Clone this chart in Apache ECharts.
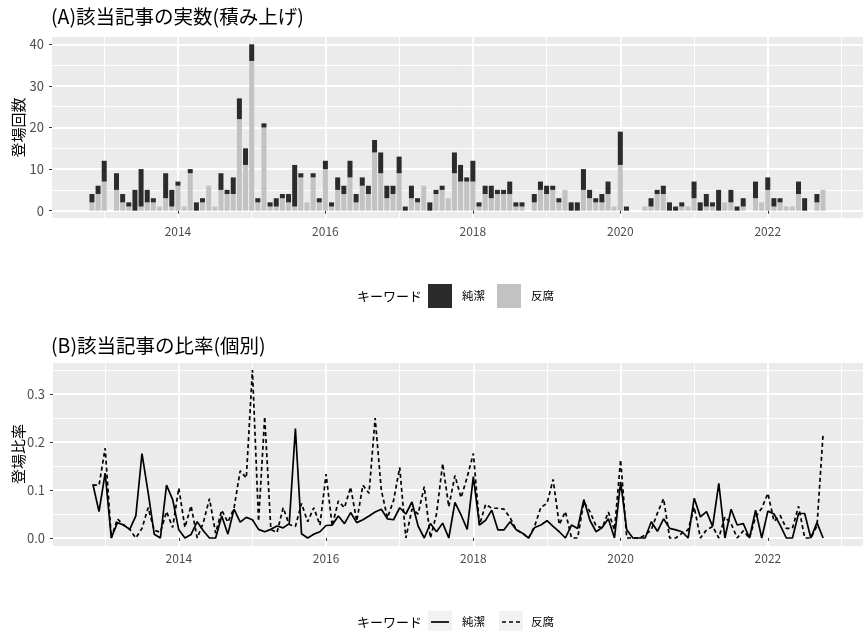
<!DOCTYPE html>
<html>
<head>
<meta charset="utf-8">
<script src="https://cdn.jsdelivr.net/npm/echarts@6/dist/echarts.min.js"></script>
<style>
  html, body { margin: 0; padding: 0; background: #ffffff; }
  #chart { width: 866px; height: 631px; }
</style>
</head>
<body>
<div id="chart"></div>
<script>
// Keywords and monthly series, first month 2012-11, last month 2022-10
const keywords = ['純潔', '反腐'];
const firstYear = 2012;
const firstMonth = 11;
const yearTickLabels = ['2014', '2016', '2018', '2020', '2022'];

// (A) number of matching articles per month
const purityCounts = [
  2, 2, 5, 0, 4, 2, 1, 5, 9, 3,
  1, 0, 6, 4, 1, 0, 1, 2, 1, 0,
  0, 4, 1, 4, 5, 4, 4, 1, 1, 1,
  2, 1, 2, 10, 1, 0, 1, 1, 2, 1,
  3, 2, 4, 2, 2, 2, 3, 5, 3, 2,
  4, 1, 3, 1, 0, 2, 1, 1, 0, 5,
  4, 1, 5, 1, 2, 3, 1, 1, 3, 1,
  1, 0, 2, 2, 2, 1, 1, 0, 2, 2,
  5, 2, 1, 2, 3, 0, 8, 1, 0, 0,
  0, 2, 1, 2, 2, 1, 1, 0, 4, 2,
  3, 1, 5, 0, 3, 1, 2, 0, 4, 0,
  3, 2, 1, 0, 0, 3, 3, 0, 2, 0
];
const anticorruptionCounts = [
  2, 4, 7, 0, 5, 2, 1, 0, 1, 2,
  2, 1, 3, 1, 6, 1, 9, 0, 2, 6,
  1, 5, 4, 4, 22, 11, 36, 2, 20, 1,
  1, 3, 2, 1, 8, 2, 8, 2, 10, 1,
  5, 4, 8, 2, 6, 4, 14, 9, 3, 4,
  9, 0, 3, 2, 6, 0, 4, 5, 3, 9,
  7, 7, 7, 1, 4, 3, 4, 4, 4, 1,
  1, 0, 2, 5, 4, 5, 2, 5, 0, 0,
  5, 3, 2, 2, 4, 1, 11, 0, 0, 0,
  1, 1, 4, 4, 0, 0, 1, 1, 3, 0,
  1, 1, 0, 2, 2, 0, 1, 0, 3, 2,
  5, 1, 2, 1, 1, 4, 0, 0, 2, 5
];

// (B) share of the month's articles for each keyword
const purityRatio = [
  0.112, 0.055, 0.135, 0, 0.032, 0.027, 0.018, 0.046, 0.176, 0.095,
  0.008, 0, 0.11, 0.08, 0.017, 0, 0.0075, 0.034, 0.015, 0,
  0, 0.046, 0.008, 0.06, 0.033, 0.043, 0.038, 0.018, 0.013, 0.018,
  0.025, 0.021, 0.03, 0.228, 0.009, 0, 0.008, 0.013, 0.026, 0.027,
  0.046, 0.03, 0.053, 0.032, 0.038, 0.046, 0.054, 0.06, 0.04, 0.038,
  0.063, 0.05, 0.075, 0.025, 0, 0.03, 0.013, 0.031, 0, 0.074,
  0.048, 0.018, 0.128, 0.027, 0.037, 0.058, 0.017, 0.017, 0.034, 0.017,
  0.01, 0, 0.022, 0.027, 0.036, 0.024, 0.013, 0, 0.027, 0.02,
  0.08, 0.037, 0.013, 0.022, 0.04, 0, 0.117, 0.017, 0, 0,
  0, 0.034, 0.014, 0.04, 0.02, 0.017, 0.013, 0, 0.083, 0.044,
  0.055, 0.024, 0.114, 0, 0.06, 0.027, 0.03, 0, 0.058, 0,
  0.056, 0.05, 0.027, 0, 0, 0.051, 0.051, 0, 0.032, 0
];
const anticorruptionRatio = [
  0.11, 0.11, 0.187, 0, 0.04, 0.027, 0.018, 0, 0.02, 0.063,
  0.016, 0.012, 0.055, 0.022, 0.104, 0.022, 0.067, 0, 0.032, 0.082,
  0.01, 0.058, 0.033, 0.062, 0.14, 0.125, 0.35, 0.035, 0.253, 0.018,
  0.011, 0.063, 0.028, 0.024, 0.072, 0.034, 0.063, 0.027, 0.133, 0.025,
  0.077, 0.063, 0.106, 0.035, 0.11, 0.093, 0.25, 0.1, 0.042, 0.078,
  0.147, 0, 0.06, 0.05, 0.107, 0, 0.05, 0.155, 0.065, 0.13,
  0.084, 0.127, 0.176, 0.027, 0.07, 0.062, 0.062, 0.06, 0.042, 0.017,
  0.01, 0, 0.025, 0.064, 0.072, 0.122, 0.028, 0.055, 0, 0,
  0.075, 0.055, 0.025, 0.021, 0.054, 0.017, 0.163, 0, 0, 0,
  0.006, 0.017, 0.052, 0.082, 0, 0, 0.01, 0.017, 0.064, 0,
  0.017, 0.024, 0, 0.044, 0.03, 0, 0.015, 0, 0.044, 0.062,
  0.093, 0.035, 0.047, 0.02, 0.02, 0.066, 0, 0, 0.025, 0.218
];

// Six empty months on each side give the axis its outer margin
const PAD = 6;
function monthName(t) {
  const y = Math.floor(t / 12);
  const m = t % 12 + 1;
  return y + '-' + String(m).padStart(2, '0');
}
const t0 = firstYear * 12 + firstMonth - 1;
const axisMonths = [];
for (let k = -PAD; k < purityCounts.length + PAD; k++) axisMonths.push(monthName(t0 + k));
const padded = arr => Array(PAD).fill(null).concat(arr, Array(PAD).fill(null));

const isMajor = v => v.endsWith('-01') && yearTickLabels.includes(v.slice(0, 4));
const isMinor = v => v.endsWith('-01') && !yearTickLabels.includes(v.slice(0, 4));

const FONT = 'Noto Sans CJK JP';
const PANEL_BG = '#EBEBEB';
const DARK = '#2B2B2B';
const LIGHT = '#C2C2C2';
const LABEL = '#4D4D4D';

function xMajor(gridIndex) {
  return {
    type: 'category', gridIndex, data: axisMonths, boundaryGap: true,
    axisLine: { show: false },
    axisTick: { show: true, length: 3, alignWithLabel: true,
      interval: (i, v) => isMajor(v), lineStyle: { color: '#333333', width: 1 } },
    axisLabel: { show: true, interval: (i, v) => isMajor(v), formatter: v => v.slice(0, 4),
      color: LABEL, fontSize: 12, margin: 6, fontFamily: FONT },
    splitLine: { show: true, alignWithLabel: true, interval: (i, v) => isMajor(v),
      lineStyle: { color: '#FFFFFF', width: 1.8 } }
  };
}
function xMinor(gridIndex) {
  return {
    type: 'category', gridIndex, data: axisMonths, boundaryGap: true,
    axisLine: { show: false }, axisTick: { show: false }, axisLabel: { show: false },
    splitLine: { show: true, alignWithLabel: true, interval: (i, v) => isMinor(v),
      lineStyle: { color: '#FFFFFF', width: 0.9 } }
  };
}
function yAxis(gridIndex, min, max, name, nameGap, fmt) {
  return {
    type: 'value', gridIndex, min, max, splitNumber: 5,
    name, nameLocation: 'middle', nameGap, nameMoveOverlap: false,
    nameTextStyle: { fontSize: 15, color: '#000000', fontFamily: FONT },
    axisLine: { show: false },
    axisTick: { show: true, length: 3, lineStyle: { color: '#333333', width: 1 } },
    axisLabel: { color: LABEL, fontSize: 13, margin: 8, fontFamily: FONT,
      showMinLabel: false, showMaxLabel: false, formatter: fmt },
    splitLine: { show: true, lineStyle: { color: '#FFFFFF', width: 1.8 } },
    minorTick: { show: false, splitNumber: 2 },
    minorSplitLine: { show: true, lineStyle: { color: '#FFFFFF', width: 0.9 } }
  };
}

// Line keys for the ratio legend, drawn over light key boxes
const keyY = 622;
const lineKeys = [
  { x: 428, dash: null },
  { x: 499, dash: [4, 3] }
];
const keyGraphics = [];
lineKeys.forEach(k => {
  keyGraphics.push({ type: 'rect', shape: { x: k.x, y: 611, width: 24, height: 22 },
    style: { fill: '#F2F2F2' }, z: 10 });
  keyGraphics.push({ type: 'line', shape: { x1: k.x + 3, y1: keyY, x2: k.x + 21, y2: keyY },
    style: { stroke: '#000000', lineWidth: 1.7, lineDash: k.dash }, z: 11 });
});

const chart = echarts.init(document.getElementById('chart'), null, { renderer: 'canvas' });
chart.setOption({
  animation: false,
  backgroundColor: '#FFFFFF',
  textStyle: { fontFamily: FONT },
  title: [
    { text: '(A)該当記事の実数(積み上げ)', left: 46, top: 2,
      textStyle: { fontSize: 19.5, fontWeight: 'normal', color: '#000000', fontFamily: FONT } },
    { text: '(B)該当記事の比率(個別)', left: 46, top: 331,
      textStyle: { fontSize: 19.5, fontWeight: 'normal', color: '#000000', fontFamily: FONT } }
  ],
  grid: [
    { left: 52, top: 36, width: 811, height: 183, show: true, backgroundColor: PANEL_BG,
      borderWidth: 0, containLabel: false, outerBoundsMode: 'none' },
    { left: 53, top: 361.6, width: 810, height: 184.8, show: true, backgroundColor: PANEL_BG,
      borderWidth: 0, containLabel: false, outerBoundsMode: 'none' }
  ],
  xAxis: [xMajor(0), xMinor(0), xMajor(1), xMinor(1)],
  yAxis: [
    yAxis(0, -2, 42, '登場回数', 26.5, v => String(v)),
    yAxis(1, -0.0175, 0.3675, '登場比率', 27.5, v => v.toFixed(1))
  ],
  legend: [
    { left: 428, top: 284, padding: 0, itemWidth: 24, itemHeight: 24, itemGap: 12,
      icon: 'rect', selectedMode: false, data: keywords,
      textStyle: { fontSize: 11.5, color: '#000000', fontFamily: FONT, padding: [0, 0, 0, 5] } },
    { left: 428, top: 611, padding: 0, itemWidth: 24, itemHeight: 22, itemGap: 12,
      icon: 'rect', itemStyle: { opacity: 0 }, selectedMode: false,
      data: keywords.map(k => k + '比率'),
      formatter: n => n.replace('比率', ''),
      textStyle: { fontSize: 11.5, color: '#000000', fontFamily: FONT, padding: [0, 0, 0, 5] } }
  ],
  graphic: [
    { type: 'text', x: 357, y: 296, style: { text: 'キーワード', fontSize: 13, fill: '#000000',
      fontFamily: FONT, verticalAlign: 'middle' } },
    { type: 'text', x: 357, y: 622, style: { text: 'キーワード', fontSize: 13, fill: '#000000',
      fontFamily: FONT, verticalAlign: 'middle' } }
  ].concat(keyGraphics),
  series: [
    { name: keywords[1], type: 'bar', xAxisIndex: 0, yAxisIndex: 0, stack: 'count',
      barWidth: 5, itemStyle: { color: LIGHT }, data: padded(anticorruptionCounts) },
    { name: keywords[0], type: 'bar', xAxisIndex: 0, yAxisIndex: 0, stack: 'count',
      barWidth: 5, itemStyle: { color: DARK }, data: padded(purityCounts) },
    { name: keywords[0] + '比率', type: 'line', xAxisIndex: 2, yAxisIndex: 1, symbol: 'none',
      itemStyle: { color: '#000000' },
      lineStyle: { color: '#000000', width: 1.7, type: 'solid' }, data: padded(purityRatio) },
    { name: keywords[1] + '比率', type: 'line', xAxisIndex: 2, yAxisIndex: 1, symbol: 'none',
      itemStyle: { color: '#000000' },
      lineStyle: { color: '#000000', width: 1.7, type: [4, 3] }, data: padded(anticorruptionRatio) }
  ]
});
</script>
</body>
</html>
